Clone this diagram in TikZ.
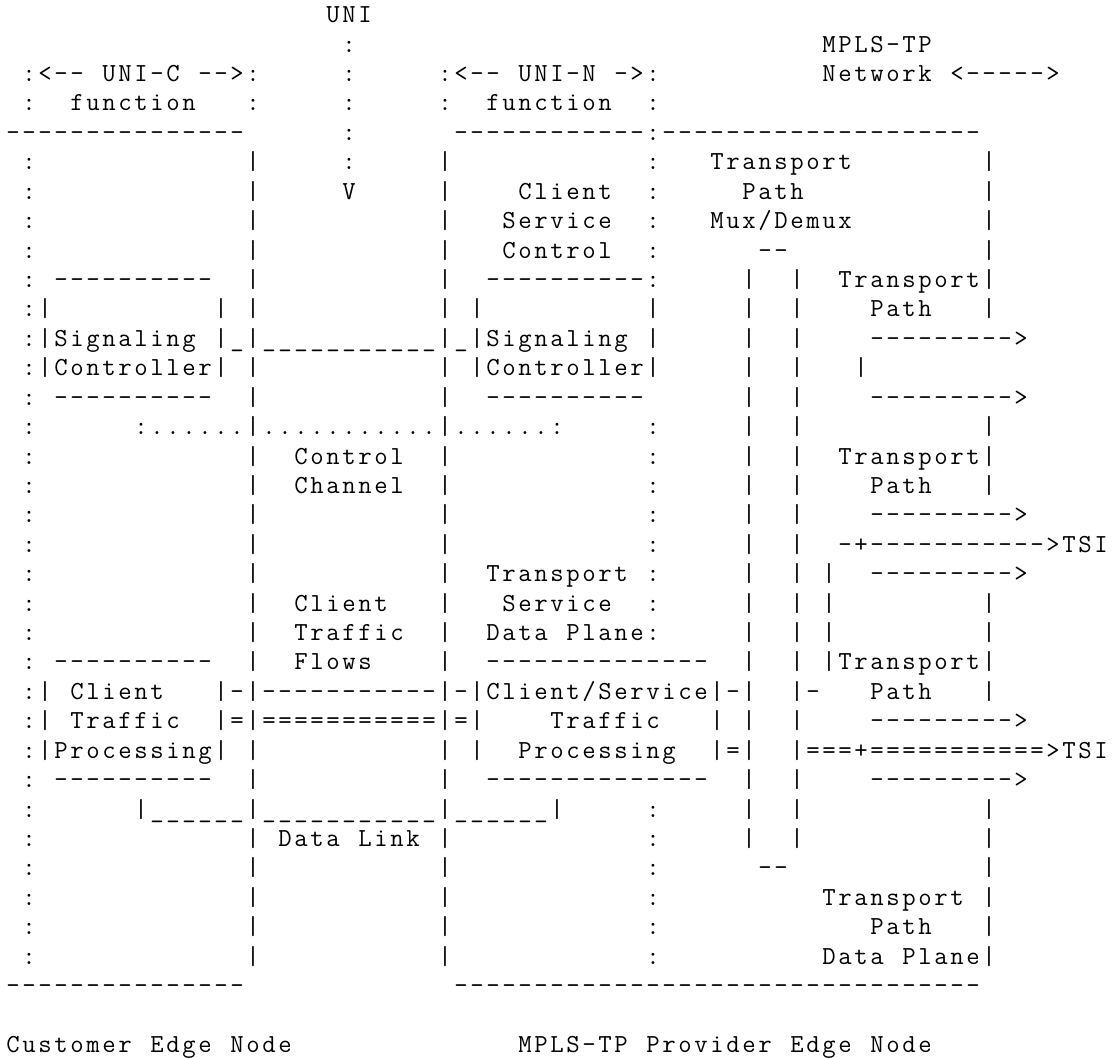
\documentclass[tikz,border=0pt]{standalone}
\usepackage{tikz}
\ExplSyntaxOn
\cs_new_protected:Npn \asciirun #1
  { \str_map_inline:nn {#1} { \makebox[16pt][c]{##1} } }
\ExplSyntaxOff
\tikzset{asc/.style={anchor=base west,inner sep=0pt,outer sep=0pt,
  font=\fontsize{26}{30}\selectfont\ttfamily,text=black}}
\newcommand\ascseg[3]{%
  \node[asc] (r#1c#2) at ({5pt+16pt*#2},{-(29.42pt*(#1+0.5)+8pt)}) {\asciirun{#3}};}
\begin{document}
\begin{tikzpicture}
\fill[white] (0,0) rectangle (1114pt,-1059pt);
\useasboundingbox (0,0) rectangle (1114pt,-1059pt);
% row 0-4
\ascseg{0}{20}{UNI}
\ascseg{1}{21}{:}\ascseg{1}{51}{MPLS-TP}
\ascseg{2}{1}{:<-- UNI-C -->:}\ascseg{2}{21}{:}\ascseg{2}{27}{:<-- UNI-N ->:}\ascseg{2}{51}{Network <----->}
\ascseg{3}{1}{:}\ascseg{3}{4}{function}\ascseg{3}{15}{:}\ascseg{3}{21}{:}\ascseg{3}{27}{:}\ascseg{3}{30}{function}\ascseg{3}{40}{:}
\ascseg{4}{0}{---------------}\ascseg{4}{21}{:}\ascseg{4}{28}{------------:--------------------}
% rows 5-8
\ascseg{5}{1}{:}\ascseg{5}{15}{|}\ascseg{5}{21}{:}\ascseg{5}{27}{|}\ascseg{5}{40}{:}\ascseg{5}{44}{Transport}\ascseg{5}{61}{|}
\ascseg{6}{1}{:}\ascseg{6}{15}{|}\ascseg{6}{21}{V}\ascseg{6}{27}{|}\ascseg{6}{32}{Client}\ascseg{6}{40}{:}\ascseg{6}{46}{Path}\ascseg{6}{61}{|}
\ascseg{7}{1}{:}\ascseg{7}{15}{|}\ascseg{7}{27}{|}\ascseg{7}{31}{Service}\ascseg{7}{40}{:}\ascseg{7}{44}{Mux/Demux}\ascseg{7}{61}{|}
\ascseg{8}{1}{:}\ascseg{8}{15}{|}\ascseg{8}{27}{|}\ascseg{8}{31}{Control}\ascseg{8}{40}{:}\ascseg{8}{47}{--}\ascseg{8}{61}{|}
% rows 9-14
\ascseg{9}{1}{:}\ascseg{9}{3}{----------}\ascseg{9}{15}{|}\ascseg{9}{27}{|}\ascseg{9}{30}{----------:}\ascseg{9}{46}{|}\ascseg{9}{49}{|}\ascseg{9}{52}{Transport|}
\ascseg{10}{1}{:|}\ascseg{10}{13}{| |}\ascseg{10}{27}{| |}\ascseg{10}{40}{|}\ascseg{10}{46}{|}\ascseg{10}{49}{|}\ascseg{10}{54}{Path}\ascseg{10}{61}{|}
\ascseg{11}{1}{:|Signaling |_|___________|_|Signaling |}\ascseg{11}{46}{|}\ascseg{11}{49}{|}\ascseg{11}{54}{--------->}
\ascseg{12}{1}{:|Controller| |}\ascseg{12}{27}{| |Controller|}\ascseg{12}{46}{|}\ascseg{12}{49}{|}\ascseg{12}{53}{|}
\ascseg{13}{1}{:}\ascseg{13}{3}{----------}\ascseg{13}{15}{|}\ascseg{13}{27}{|}\ascseg{13}{30}{----------}\ascseg{13}{46}{|}\ascseg{13}{49}{|}\ascseg{13}{54}{--------->}
\ascseg{14}{1}{:}\ascseg{14}{8}{:......|...........|......:}\ascseg{14}{40}{:}\ascseg{14}{46}{|}\ascseg{14}{49}{|}\ascseg{14}{61}{|}
% rows 15-22
\ascseg{15}{1}{:}\ascseg{15}{15}{|}\ascseg{15}{18}{Control}\ascseg{15}{27}{|}\ascseg{15}{40}{:}\ascseg{15}{46}{|}\ascseg{15}{49}{|}\ascseg{15}{52}{Transport|}
\ascseg{16}{1}{:}\ascseg{16}{15}{|}\ascseg{16}{18}{Channel}\ascseg{16}{27}{|}\ascseg{16}{40}{:}\ascseg{16}{46}{|}\ascseg{16}{49}{|}\ascseg{16}{54}{Path}\ascseg{16}{61}{|}
\ascseg{17}{1}{:}\ascseg{17}{15}{|}\ascseg{17}{27}{|}\ascseg{17}{40}{:}\ascseg{17}{46}{|}\ascseg{17}{49}{|}\ascseg{17}{54}{--------->}
\ascseg{18}{1}{:}\ascseg{18}{15}{|}\ascseg{18}{27}{|}\ascseg{18}{40}{:}\ascseg{18}{46}{|}\ascseg{18}{49}{|}\ascseg{18}{52}{-+----------->TSI}
\ascseg{19}{1}{:}\ascseg{19}{15}{|}\ascseg{19}{27}{|}\ascseg{19}{30}{Transport :}\ascseg{19}{46}{|}\ascseg{19}{49}{|}\ascseg{19}{51}{|}\ascseg{19}{54}{--------->}
\ascseg{20}{1}{:}\ascseg{20}{15}{|}\ascseg{20}{18}{Client}\ascseg{20}{27}{|}\ascseg{20}{31}{Service}\ascseg{20}{40}{:}\ascseg{20}{46}{|}\ascseg{20}{49}{|}\ascseg{20}{51}{|}\ascseg{20}{61}{|}
\ascseg{21}{1}{:}\ascseg{21}{15}{|}\ascseg{21}{18}{Traffic}\ascseg{21}{27}{|}\ascseg{21}{30}{Data Plane:}\ascseg{21}{46}{|}\ascseg{21}{49}{|}\ascseg{21}{51}{|}\ascseg{21}{61}{|}
\ascseg{22}{1}{:}\ascseg{22}{3}{----------}\ascseg{22}{15}{|}\ascseg{22}{18}{Flows}\ascseg{22}{27}{|}\ascseg{22}{30}{--------------}\ascseg{22}{46}{|}\ascseg{22}{49}{|}\ascseg{22}{51}{|Transport|}
% rows 23-29
\ascseg{23}{1}{:| Client}\ascseg{23}{13}{|-|-----------|-|Client/Service|-|}\ascseg{23}{49}{|-}\ascseg{23}{54}{Path}\ascseg{23}{61}{|}
\ascseg{24}{1}{:| Traffic}\ascseg{24}{13}{|=|===========|=|}\ascseg{24}{34}{Traffic}\ascseg{24}{44}{|}\ascseg{24}{46}{|}\ascseg{24}{49}{|}\ascseg{24}{54}{--------->}
\ascseg{25}{1}{:|Processing|}\ascseg{25}{15}{|}\ascseg{25}{27}{| |}\ascseg{25}{32}{Processing}\ascseg{25}{44}{|=|}\ascseg{25}{49}{|===+===========>TSI}
\ascseg{26}{1}{:}\ascseg{26}{3}{----------}\ascseg{26}{15}{|}\ascseg{26}{27}{|}\ascseg{26}{30}{--------------}\ascseg{26}{46}{|}\ascseg{26}{49}{|}\ascseg{26}{54}{--------->}
\ascseg{27}{1}{:}\ascseg{27}{8}{|______|___________|______|}\ascseg{27}{40}{:}\ascseg{27}{46}{|}\ascseg{27}{49}{|}\ascseg{27}{61}{|}
\ascseg{28}{1}{:}\ascseg{28}{15}{|}\ascseg{28}{17}{Data Link}\ascseg{28}{27}{|}\ascseg{28}{40}{:}\ascseg{28}{46}{|}\ascseg{28}{49}{|}\ascseg{28}{61}{|}
\ascseg{29}{1}{:}\ascseg{29}{15}{|}\ascseg{29}{27}{|}\ascseg{29}{40}{:}\ascseg{29}{47}{--}\ascseg{29}{61}{|}
% rows 30-35
\ascseg{30}{1}{:}\ascseg{30}{15}{|}\ascseg{30}{27}{|}\ascseg{30}{40}{:}\ascseg{30}{51}{Transport |}
\ascseg{31}{1}{:}\ascseg{31}{15}{|}\ascseg{31}{27}{|}\ascseg{31}{40}{:}\ascseg{31}{54}{Path}\ascseg{31}{61}{|}
\ascseg{32}{1}{:}\ascseg{32}{15}{|}\ascseg{32}{27}{|}\ascseg{32}{40}{:}\ascseg{32}{51}{Data Plane|}
\ascseg{33}{0}{---------------}\ascseg{33}{28}{---------------------------------}
\ascseg{35}{0}{Customer Edge Node}\ascseg{35}{32}{MPLS-TP Provider Edge Node}
\end{tikzpicture}
\end{document}
